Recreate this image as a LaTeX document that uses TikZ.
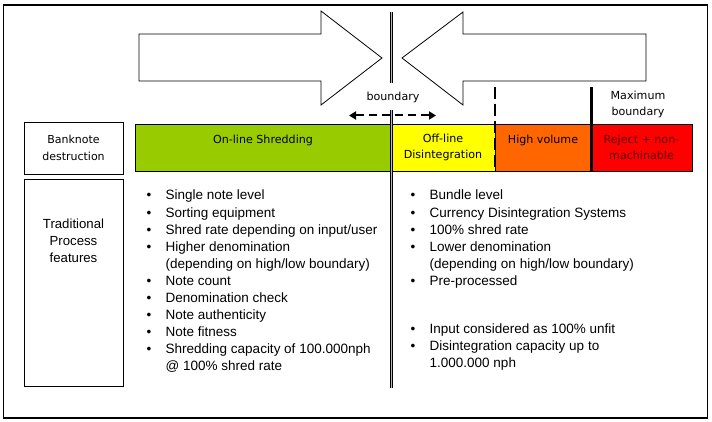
\documentclass[tikz,border=0pt]{standalone}
\usepackage{fontspec}
\setmainfont{Liberation Sans}
\newfontfamily\barfont{DejaVu Sans}
\usepackage{tikz}
\usetikzlibrary{positioning,arrows.meta}
\usepackage{xcolor}
\definecolor{shredgreen}{RGB}{153,204,0}
\definecolor{offyellow}{RGB}{255,255,0}
\definecolor{highorange}{RGB}{255,102,0}
\definecolor{rejectred}{RGB}{255,0,0}
\definecolor{rejecttext}{RGB}{90,0,0}
\tikzstyle{frame} = [draw=black, line width=1.2pt]
\tikzstyle{bigarrow} = [draw=black, fill=white, line width=0.8pt, line join=miter]
\tikzstyle{segment} = [draw=black, line width=0.9pt, rectangle, minimum height=47pt,
    inner sep=0pt, outer sep=0pt, align=center, font=\barfont\fontsize{11.1}{16}\selectfont]
\tikzstyle{sidebox} = [draw=black, line width=0.9pt, rectangle, minimum width=99pt,
    inner sep=0pt, outer sep=0pt, align=center]
\tikzstyle{bullets} = [anchor=north west, inner sep=0pt, align=left,
    font=\fontsize{13.5}{17.1}\selectfont]
\tikzstyle{marklabel} = [align=center, inner sep=0pt, font=\barfont\fontsize{11.1}{16}\selectfont]
\tikzstyle{divider} = [line width=0.7pt, double=gray!55, double distance=1.6pt]
\tikzstyle{highlow} = [line width=2.5pt, dash pattern=on 12pt off 5pt]
\tikzstyle{maxline} = [line width=3pt]
\tikzstyle{movearrow} = [line width=2pt, dash pattern=on 8pt off 5pt,
    {Triangle[length=7pt,width=8pt]}-{Triangle[length=7pt,width=8pt]}]
\newcommand{\bitem}[1]{\makebox[19pt][l]{\textbullet}#1}
\newcommand{\bcont}[1]{\hspace*{19pt}#1}

\begin{document}
\begin{tikzpicture}[x=1pt,y=-1pt]
\useasboundingbox (0,0) rectangle (712,422);
\draw[frame] (3.5,5) rectangle (707.5,418);

% the two big arrows
\draw[bigarrow] (139,34) -- (321,34) -- (321,11) -- (382,58) -- (321,105) -- (321,81) -- (139,81) -- cycle;
\draw[bigarrow] (402,58) -- (463,12) -- (463,34) -- (646,34) -- (646,81) -- (463,81) -- (463,105) -- cycle;

\node[sidebox, minimum height=52pt, font=\barfont\fontsize{11}{16.5}\selectfont] (destr) at (73.5,148) {Banknote\\destruction};
\node[sidebox, minimum height=207pt] (feat) at (73.5,282.5) {};
\node[align=center, anchor=north, inner sep=0pt, font=\fontsize{13.2}{16.8}\selectfont] (featlabel) at ([yshift=-40pt]feat.north) {Traditional\\Process\\features};

% destruction bar
\node[segment, fill=shredgreen, minimum width=256pt] (online) at (263,147.5) {On-line Shredding\\\mbox{}};
\node[segment, fill=offyellow, minimum width=104pt, right=0pt of online] (offline) {Off-line\\Disintegration};
\node[segment, fill=highorange, minimum width=96pt, right=0pt of offline] (highvol) {High volume\\\mbox{}};
\node[segment, fill=rejectred, text=rejecttext, minimum width=101pt, right=0pt of highvol] (reject) {Reject + non-\\machinable};

\coordinate (divtop) at (391.5,12);
\coordinate (divbot) at (391.5,388);
\draw[divider] (divtop) -- (divbot);
\draw[highlow] ([yshift=37pt]offline.north east) -- (offline.south east);
\draw[maxline] ([yshift=37pt]highvol.north east) -- (highvol.south east);

\node[marklabel, fill=white, minimum height=27pt, inner xsep=2pt] (bound) at (393,97) {boundary};
\node[marklabel] (maxbound) at (638,104) {Maximum\\boundary};

\coordinate (moveleft) at (349,115.5);
\coordinate (moveright) at (436,115.5);
\draw[movearrow] (moveleft) -- (moveright);

\node[bullets] (leftlist) at (146.5,190) {%
    \bitem{Single note level}\\
    \bitem{Sorting equipment}\\
    \bitem{Shred rate depending on input/user}\\
    \bitem{Higher denomination}\\
    \bcont{(depending on high/low boundary)}\\
    \bitem{Note count}\\
    \bitem{Denomination check}\\
    \bitem{Note authenticity}\\
    \bitem{Note fitness}\\
    \bitem{Shredding capacity of 100.000nph}\\
    \bcont{@ 100\% shred rate}};
\node[bullets] (rightlist) at (410.5,190) {%
    \bitem{Bundle level}\\
    \bitem{Currency Disintegration Systems}\\
    \bitem{100\% shred rate}\\
    \bitem{Lower denomination}\\
    \bcont{(depending on high/low boundary)}\\
    \bitem{Pre-processed}\\[30.5pt]
    \bitem{Input considered as 100\% unfit}\\
    \bitem{Disintegration capacity up to}\\
    \bcont{1.000.000 nph}};
\end{tikzpicture}
\end{document}
